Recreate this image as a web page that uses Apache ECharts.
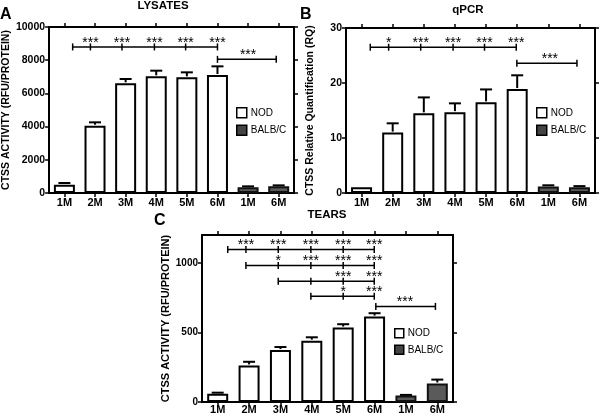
<!DOCTYPE html>
<html><head><meta charset="utf-8">
<script src="https://cdn.jsdelivr.net/npm/echarts@6/dist/echarts.min.js"></script>
<style>html,body{margin:0;padding:0;background:#fff}#c{width:600px;height:416px}</style>
</head><body><div id="c"></div>
<script>
// ---------- DATA ----------
const categories = ['1M','2M','3M','4M','5M','6M','1M','6M'];
const seriesNames = ['NOD','BALB/C'];

// Panel A: LYSATES
const lysNOD    = [502, 4056, 6606, 7028, 6968, 7108, null, null];
const lysBALB   = [null, null, null, null, null, null, 341, 400];
const lysErrTop = [602, 4257, 6867, 7369, 7269, 7630, 400, 460];
const lysYTicks = [0, 2000, 4000, 6000, 8000, 10000];
const lysSigY      = [8800, 8050];
const lysSigTicks  = [[0.27, 0.85, 1.88, 2.94, 3.96, 5.0], [5.0, 6.92]];
const lysSigLabelX = [[0.85, 1.88, 2.94, 3.96, 5.0], [6.0]];
const lysSigLabel  = [['***','***','***','***','***'], ['***']];

// Panel B: qPCR
const qpcrNOD    = [1.03, 10.98, 14.48, 14.7, 16.48, 18.9, null, null];
const qpcrBALB   = [null, null, null, null, null, null, 1.2, 1.03];
const qpcrErrTop = [1.03, 12.67, 17.38, 16.3, 18.83, 21.4, 1.4, 1.25];
const qpcrYTicks = [0, 10, 20, 30];
const qpcrSigY      = [26.5, 23.6];
const qpcrSigTicks  = [[0.28, 0.87, 1.9, 2.94, 3.95, 4.97], [4.99, 6.92]];
const qpcrSigLabelX = [[0.87, 1.9, 2.94, 3.95, 4.97], [6.05]];
const qpcrSigLabel  = [['*','***','***','***','***'], ['***']];

// Panel C: TEARS
const tearNOD    = [60, 263, 373, 441, 535, 614, null, null];
const tearBALB   = [null, null, null, null, null, null, 46, 133];
const tearErrTop = [67, 289, 395, 465, 559, 638, 51, 161];
const tearYTicks = [0, 500, 1000];
const tearSigY      = [1096, 981, 867, 759, 687];
const tearSigTicks  = [[0.32, 0.90, 1.93, 2.97, 4.0, 4.99], [0.90, 1.93, 2.97, 4.0, 4.99], [1.93, 2.97, 4.0, 4.99], [2.97, 4.0, 4.99], [5.04, 6.94]];
const tearSigLabelX = [[0.90, 1.93, 2.97, 4.0, 4.99], [1.93, 2.97, 4.0, 4.99], [4.0, 4.99], [4.0, 4.99], [5.97]];
const tearSigLabel  = [['***','***','***','***','***'], ['*','***','***','***'], ['***','***'], ['*','***'], ['***']];

// ---------- STYLE / LAYOUT ----------
const FONT = '"Liberation Sans", Arial, Helvetica, sans-serif';
const NOD_FILL = '#ffffff', BALB_FILL = '#5a5a5a';

const panels = [
  { title: 'LYSATES', letter: 'A', yName: 'CTSS ACTIVITY (RFU/PROTEIN)',
    grid: {left: 45, top: 27, width: 249, height: 166},
    nod: lysNOD, balb: lysBALB, err: lysErrTop, yTicks: lysYTicks, yMax: 10000,
    sigY: lysSigY, sigTicks: lysSigTicks, sigLX: lysSigLabelX, sigL: lysSigLabel,
    nameGap: 30, nameSize: 10.5, labelSize: 10.5, xMargin: 4,
    titlePos: [163, 6], letterPos: [0, 15], legendPos: [236, 107], legendBox: 10 },
  { title: 'qPCR', letter: 'B', yName: 'CTSS Relative Quantification (RQ)',
    grid: {left: 346, top: 28, width: 249, height: 165},
    nod: qpcrNOD, balb: qpcrBALB, err: qpcrErrTop, yTicks: qpcrYTicks, yMax: 30,
    sigY: qpcrSigY, sigTicks: qpcrSigTicks, sigLX: qpcrSigLabelX, sigL: qpcrSigLabel,
    nameGap: 30, nameSize: 10.5, labelSize: 10.5, xMargin: 4,
    titlePos: [468, 10], letterPos: [300, 15], legendPos: [536, 107], legendBox: 10 },
  { title: 'TEARS', letter: 'C', yName: 'CTSS ACTIVITY (RFU/PROTEIN)',
    grid: {left: 202, top: 235, width: 251, height: 167},
    nod: tearNOD, balb: tearBALB, err: tearErrTop, yTicks: tearYTicks, yMax: 1200,
    sigY: tearSigY, sigTicks: tearSigTicks, sigLX: tearSigLabelX, sigL: tearSigLabel,
    nameGap: 28, nameSize: 11, labelSize: 10, xMargin: 2,
    titlePos: [327, 215], letterPos: [154, 221], legendPos: [394, 328], legendBox: 9 }
];

const grids = [], xAxes = [], yAxes = [], series = [], legends = [], graphics = [];

panels.forEach((p, g) => {
  grids.push(Object.assign({containLabel: false}, p.grid));
  const axisLine = {show: true, onZero: false, lineStyle: {color: '#000', width: 2}};
  const tick = {show: true, length: 4, lineStyle: {color: '#000', width: 1.5}};
  xAxes.push({type: 'category', gridIndex: g, position: 'bottom', data: categories, boundaryGap: true,
    axisLine, axisTick: Object.assign({alignWithLabel: true}, tick),
    axisLabel: {show: true, color: '#000', fontFamily: FONT, fontWeight: 'bold', fontSize: 11, margin: p.xMargin, interval: 0},
    splitLine: {show: false}});
  xAxes.push({type: 'category', gridIndex: g, position: 'top', data: categories, boundaryGap: true,
    axisLine, axisTick: Object.assign({alignWithLabel: true}, tick),
    axisLabel: {show: false}, splitLine: {show: false}});
  xAxes.push({type: 'value', gridIndex: g, min: -0.5, max: 7.5, show: false});
  const yBase = {type: 'value', gridIndex: g, min: 0, max: p.yMax, splitLine: {show: false}};
  yAxes.push(Object.assign({}, yBase, {position: 'left', axisLine,
    axisTick: Object.assign({customValues: p.yTicks}, tick),
    axisLabel: {customValues: p.yTicks, formatter: v => String(v), color: '#000', fontFamily: FONT, fontWeight: 'bold', fontSize: p.labelSize, margin: 4},
    name: p.yName, nameLocation: 'middle', nameGap: p.nameGap, nameRotate: 90,
    nameTextStyle: {color: '#000', fontFamily: FONT, fontWeight: 'bold', fontSize: p.nameSize}}));
  yAxes.push(Object.assign({}, yBase, {position: 'right', axisLine,
    axisTick: Object.assign({customValues: p.yTicks}, tick),
    axisLabel: {show: false}}));

  const xi = 3 * g, yi = 2 * g;
  series.push({name: 'NOD', type: 'bar', xAxisIndex: xi, yAxisIndex: yi, data: p.nod,
    barWidth: 21, barGap: '-100%', itemStyle: {color: NOD_FILL, borderColor: '#000', borderWidth: 2},
    emphasis: {disabled: true}, z: 2});
  series.push({name: 'BALB/C', type: 'bar', xAxisIndex: xi, yAxisIndex: yi, data: p.balb,
    barWidth: 21, barGap: '-100%', itemStyle: {color: BALB_FILL, borderColor: '#111', borderWidth: 2},
    emphasis: {disabled: true}, z: 2});
  const errData = categories.map((c, i) => [i, p.nod[i] != null ? p.nod[i] : p.balb[i], p.err[i]]);
  series.push({type: 'custom', xAxisIndex: xi + 2, yAxisIndex: yi, data: errData, z: 3, silent: true,
    renderItem: (params, api) => {
      const m = api.value(1), e = api.value(2);
      if (!(e > m)) return {type: 'group', children: []};
      const a = api.coord([api.value(0), m]), b = api.coord([api.value(0), e]);
      return {type: 'group', children: [
        {type: 'line', shape: {x1: a[0], y1: a[1] - 1, x2: b[0], y2: b[1]}, style: {stroke: '#000', lineWidth: 2}},
        {type: 'line', shape: {x1: b[0] - 6, y1: b[1], x2: b[0] + 6, y2: b[1]}, style: {stroke: '#000', lineWidth: 2}}
      ]};
    }});
  const sigData = p.sigY.map((y, r) => [Math.min(...p.sigTicks[r]), Math.max(...p.sigTicks[r]), y, r]);
  series.push({type: 'custom', xAxisIndex: xi + 2, yAxisIndex: yi, data: sigData, z: 4, silent: true, clip: false,
    renderItem: (params, api) => {
      const r = api.value(3), y = api.value(2);
      const a = api.coord([api.value(0), y]), b = api.coord([api.value(1), y]);
      const children = [{type: 'line', shape: {x1: a[0], y1: a[1], x2: b[0], y2: b[1]}, style: {stroke: '#000', lineWidth: 1.5}}];
      p.sigTicks[r].forEach(t => {
        const c = api.coord([t, y]);
        children.push({type: 'line', shape: {x1: c[0], y1: c[1] - 3.5, x2: c[0], y2: c[1] + 3.5}, style: {stroke: '#000', lineWidth: 1.5}});
      });
      p.sigLX[r].forEach((lx, k) => {
        const c = api.coord([lx, y]);
        children.push({type: 'text', style: {text: p.sigL[r][k], x: c[0], y: c[1] - 4, align: 'center', verticalAlign: 'middle',
          fontFamily: FONT, fontSize: 14, fill: '#000'}});
      });
      return {type: 'group', children};
    }});

  legends.push({orient: 'vertical', left: p.legendPos[0], top: p.legendPos[1], itemWidth: p.legendBox, itemHeight: p.legendBox,
    itemGap: 6, icon: 'rect', selectedMode: false, padding: 0,
    textStyle: {fontFamily: FONT, fontSize: 10, color: '#000', padding: [0, 0, 0, -1]},
    data: [{name: 'NOD', itemStyle: {color: NOD_FILL, borderColor: '#000', borderWidth: 1.5}},
           {name: 'BALB/C', itemStyle: {color: '#444', borderColor: '#000', borderWidth: 1.5}}]});

  graphics.push({type: 'text', x: p.titlePos[0], y: p.titlePos[1], style: {text: p.title, fontFamily: FONT, fontWeight: 'bold', fontSize: 11.5, fill: '#000', align: 'center', verticalAlign: 'middle'}});
  graphics.push({type: 'text', x: p.letterPos[0], y: p.letterPos[1], style: {text: p.letter, fontFamily: FONT, fontWeight: 'bold', fontSize: 16, fill: '#000', align: 'left', verticalAlign: 'middle'}});
});

const chart = echarts.init(document.getElementById('c'), null, {renderer: 'canvas'});
chart.setOption({
  animation: false,
  backgroundColor: '#fff',
  grid: grids, xAxis: xAxes, yAxis: yAxes, series, legend: legends,
  graphic: graphics
});
</script></body></html>
